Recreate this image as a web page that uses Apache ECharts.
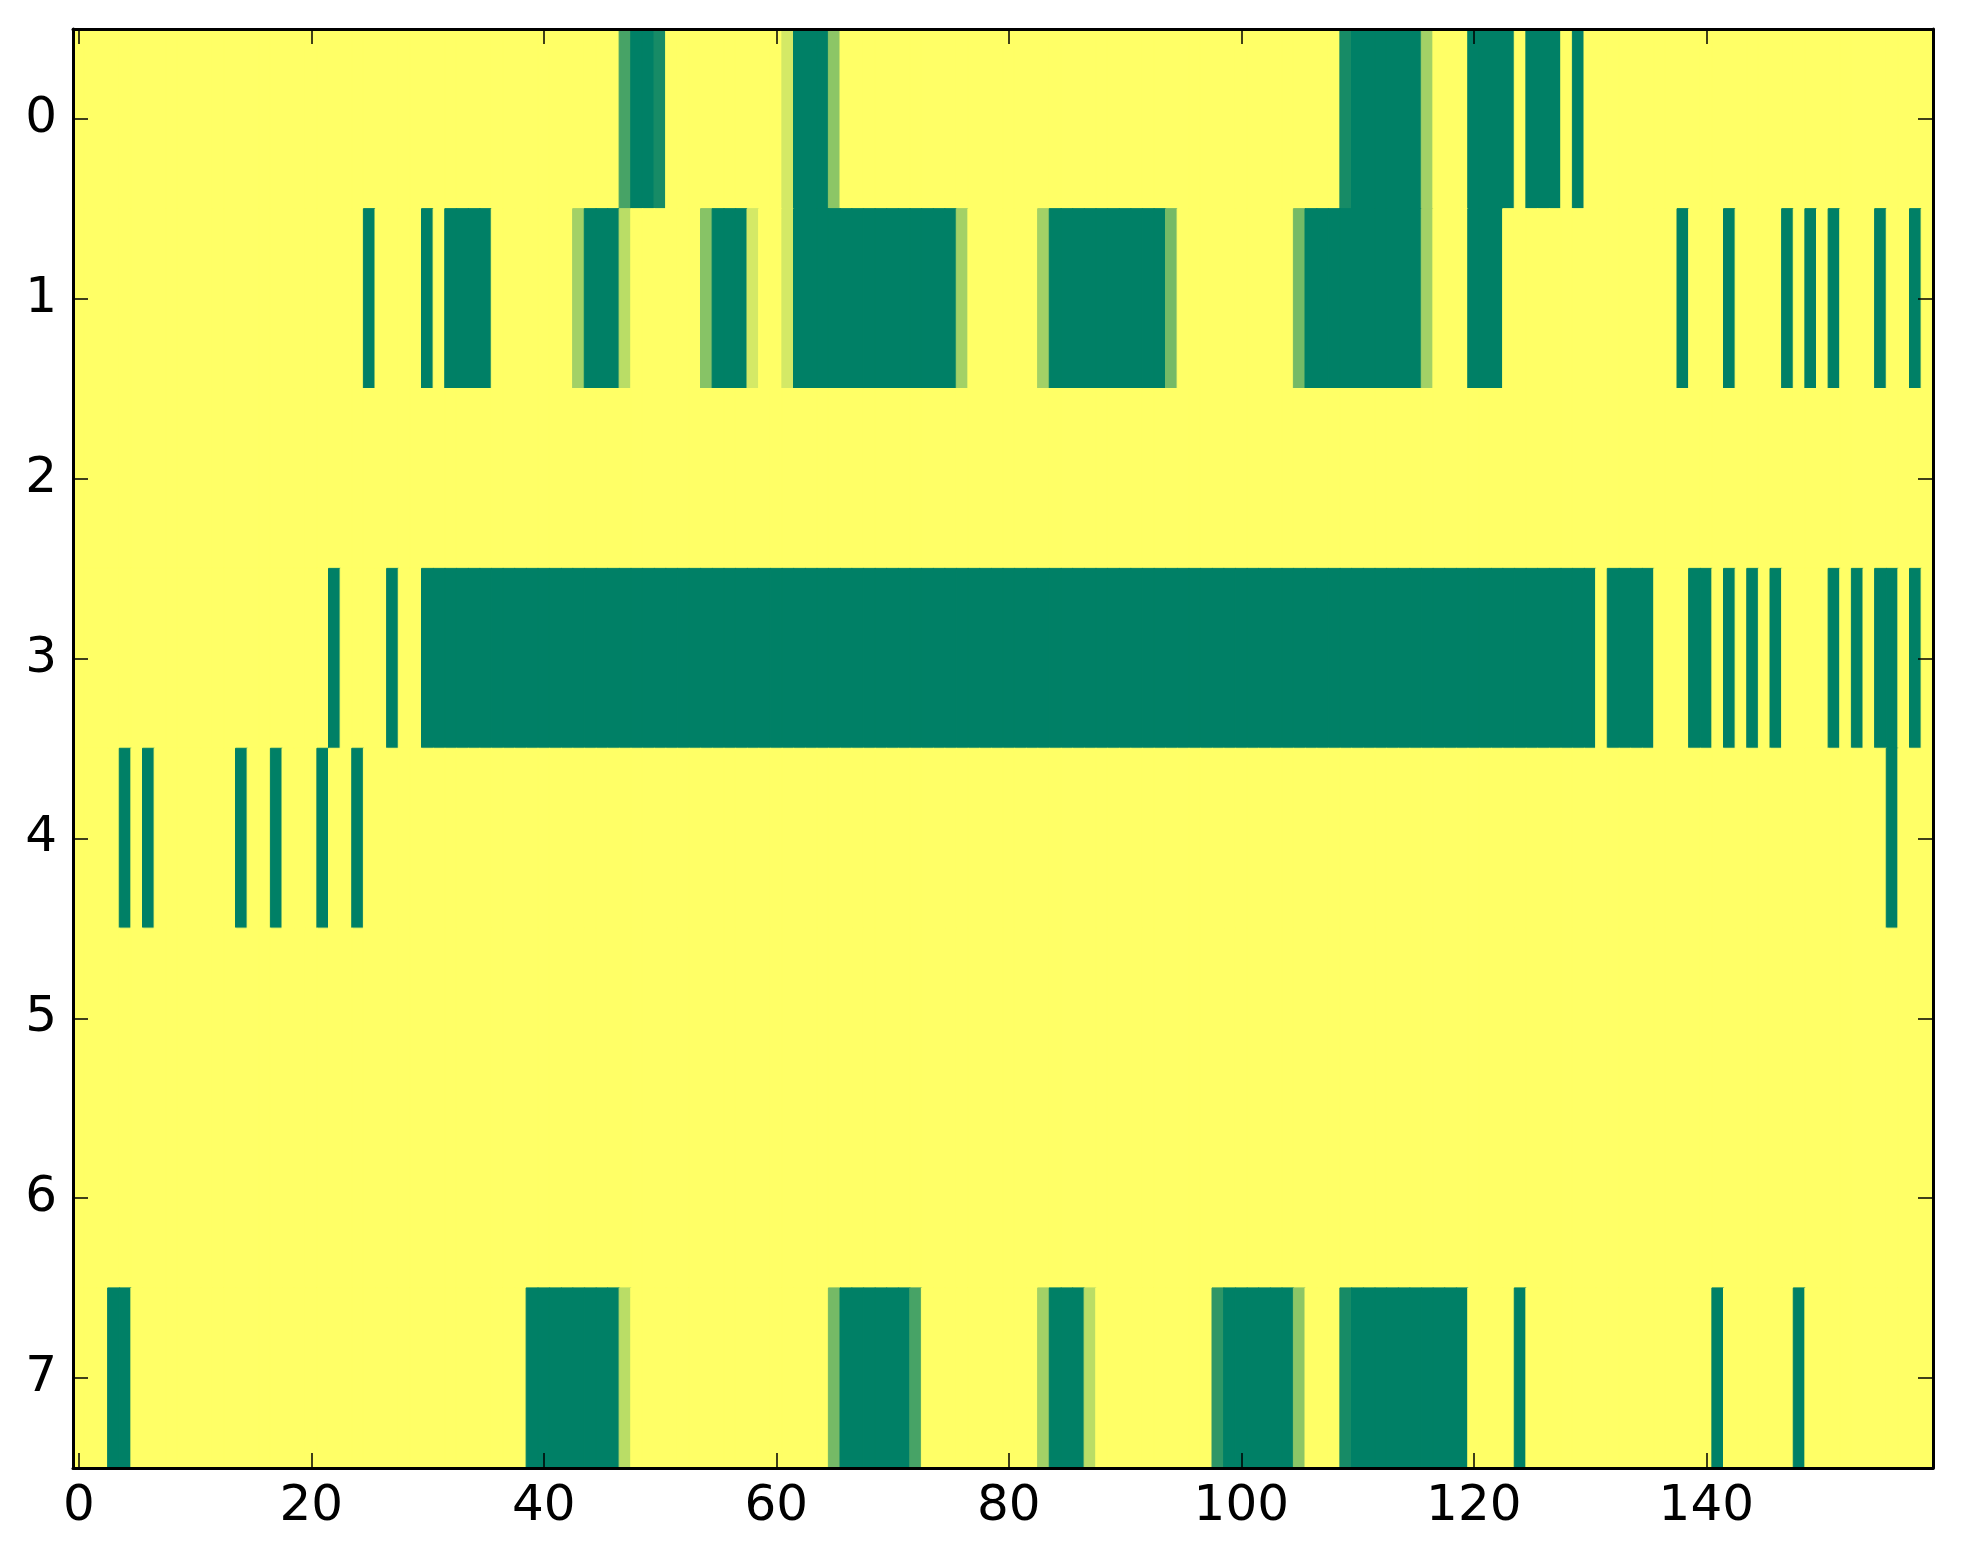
<!DOCTYPE html>
<html>
<head>
<meta charset="utf-8">
<script src="https://cdn.jsdelivr.net/npm/echarts@6/dist/echarts.min.js"></script>
<style>
html,body{margin:0;padding:0;background:#fff;}
#chart{width:1963px;height:1564px;}
</style>
</head>
<body>
<div id="chart"></div>
<script>
// Number of columns (x categories 0..159) and row labels
const columnCount = 160;
const rowLabels = ['0','1','2','3','4','5','6','7'];
const xTickStep = 20;

// Non-yellow runs per row: [startCol, endCol, value]; all other cells are 1
const row0 = [[47,47,0.28],[48,49,0],[50,50,0.09],[61,61,0.83],[62,64,0],[65,65,0.55],[109,109,0.09],[110,115,0],[116,116,0.64],[120,123,0],[125,127,0],[129,129,0]];
const row1 = [[25,25,0],[30,30,0],[32,35,0],[43,43,0.64],[44,46,0],[47,47,0.73],[54,54,0.53],[55,57,0],[58,58,0.83],[61,61,0.83],[62,75,0],[76,76,0.64],[83,83,0.64],[84,93,0],[94,94,0.46],[105,105,0.46],[106,115,0],[116,116,0.64],[120,122,0],[138,138,0],[142,142,0],[147,147,0],[149,149,0],[151,151,0],[155,155,0],[158,158,0]];
const row2 = [];
const row3 = [[22,22,0],[27,27,0],[30,130,0],[132,135,0],[139,140,0],[142,142,0],[144,144,0],[146,146,0],[151,151,0],[153,153,0],[155,156,0],[158,158,0]];
const row4 = [[4,4,0],[6,6,0],[14,14,0],[17,17,0],[21,21,0],[24,24,0],[156,156,0]];
const row5 = [];
const row6 = [];
const row7 = [[3,4,0],[39,46,0],[47,47,0.73],[65,65,0.46],[66,71,0],[72,72,0.28],[83,83,0.64],[84,86,0],[87,87,0.73],[98,98,0.18],[99,104,0],[105,105,0.55],[109,109,0.09],[110,119,0],[124,124,0],[141,141,0],[148,148,0]];
const rows = [row0,row1,row2,row3,row4,row5,row6,row7];

const xCategories = [];
for (let i = 0; i < columnCount; i++) xCategories.push(String(i));

// matplotlib 'summer' colormap: (v, 0.5 + 0.5 v, 0.4)
function summer(v) {
  const r = Math.round(255 * v);
  const g = Math.round(255 * (0.5 + 0.5 * v));
  const b = Math.round(255 * 0.4);
  return 'rgb(' + r + ',' + g + ',' + b + ')';
}

const cells = [];
rows.forEach(function (runs, r) {
  const vals = new Array(columnCount).fill(1);
  runs.forEach(function (run) {
    for (let c = run[0]; c <= run[1]; c++) vals[c] = run[2];
  });
  vals.forEach(function (v, c) {
    const col = summer(v);
    cells.push({value: [c, r, v], itemStyle: {color: col, borderColor: col, borderWidth: 1}});
  });
});

const FONT = 'DejaVu Sans';
const tickStyle = {show: true, inside: true, length: 15, alignWithLabel: true, lineStyle: {color: '#000', width: 1.5}};
const lineStyle = {show: true, onZero: false, lineStyle: {color: '#000', width: 3}};

const chart = echarts.init(document.getElementById('chart'), null, {renderer: 'canvas'});
chart.setOption({
  animation: false,
  backgroundColor: '#ffffff',
  grid: {left: 73, top: 29, right: 30, bottom: 96, containLabel: false},
  xAxis: [
    {
      type: 'category', data: xCategories, position: 'bottom', z: 10,
      axisLine: lineStyle,
      axisTick: Object.assign({}, tickStyle, {interval: function (i) { return i % xTickStep === 0; }}),
      axisLabel: {show: true, interval: function (i) { return i % xTickStep === 0; }, color: '#000', fontFamily: FONT, fontSize: 50, margin: 14},
      splitLine: {show: false}
    },
    {
      type: 'category', data: xCategories, position: 'top', z: 10,
      axisLine: lineStyle,
      axisTick: Object.assign({}, tickStyle, {interval: function (i) { return i % xTickStep === 0; }}),
      axisLabel: {show: false},
      splitLine: {show: false}
    }
  ],
  yAxis: [
    {
      type: 'category', data: rowLabels, inverse: true, position: 'left', z: 10,
      axisLine: lineStyle,
      axisTick: Object.assign({}, tickStyle, {interval: 0}),
      axisLabel: {show: true, interval: 0, color: '#000', fontFamily: FONT, fontSize: 50, margin: 16},
      splitLine: {show: false}
    },
    {
      type: 'category', data: rowLabels, inverse: true, position: 'right', z: 10,
      axisLine: lineStyle,
      axisTick: Object.assign({}, tickStyle, {interval: 0}),
      axisLabel: {show: false},
      splitLine: {show: false}
    }
  ],
  series: [{
    type: 'heatmap',
    xAxisIndex: 0, yAxisIndex: 0,
    data: cells,
    emphasis: {disabled: true},
    progressive: 0
  }]
});
</script>
</body>
</html>
